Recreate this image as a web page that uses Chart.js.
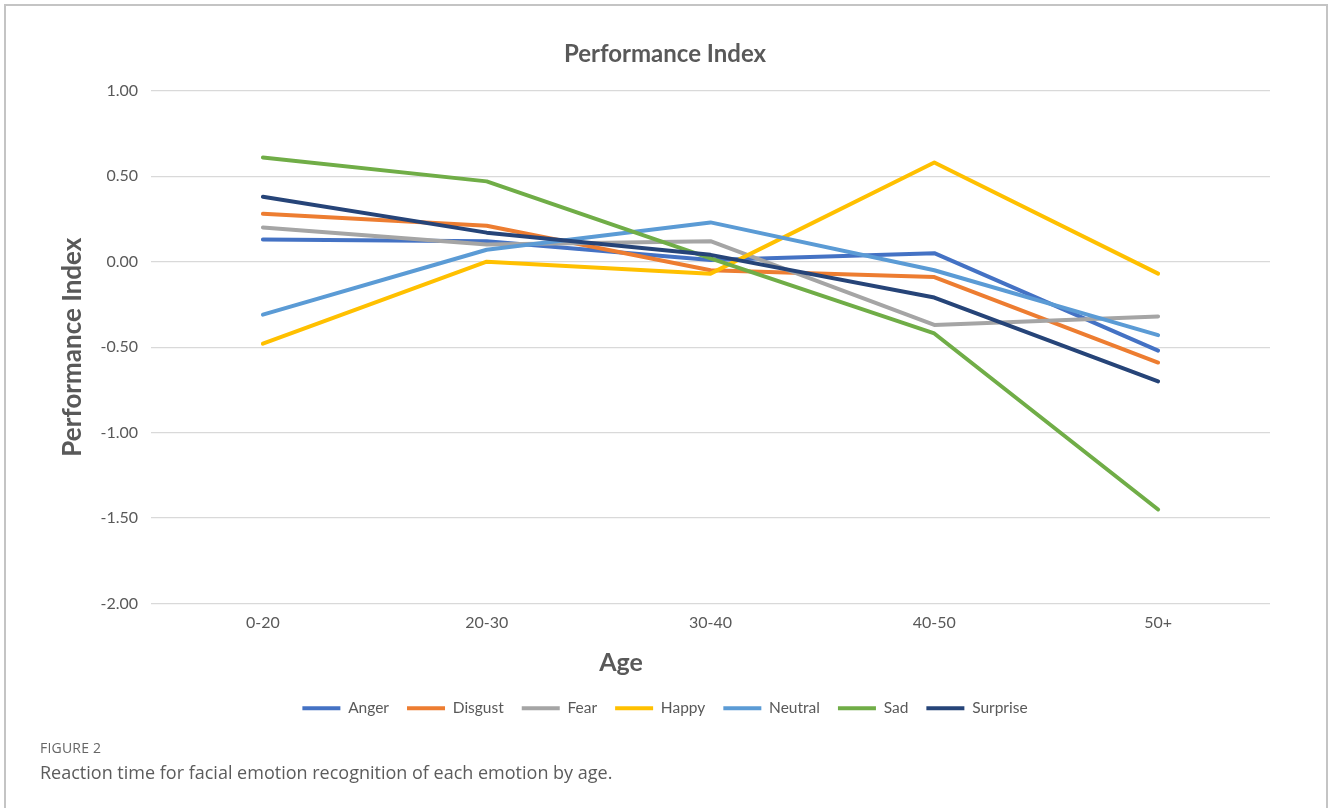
<!DOCTYPE html>
<html>
<head>
<meta charset="utf-8">
<title>Performance Index</title>
<script src="https://cdn.jsdelivr.net/npm/chart.js@4"></script>
<style>
  html, body { margin: 0; padding: 0; background: #ffffff; }
  body { width: 1330px; height: 808px; position: relative; overflow: hidden; }
  #frame {
    position: absolute; left: 4px; top: 4px; width: 1324px; height: 840px;
    border: 2px solid #c4c4c4; box-sizing: border-box; pointer-events: none;
  }
  #wrap { position: absolute; left: 0; top: 0; width: 1330px; height: 726px; }
  #fig-label {
    position: absolute; left: 40px; top: 738px;
    font-family: "Open Sans", sans-serif; font-size: 14px; color: #666666;
    letter-spacing: 0.2px;
  }
  #fig-caption {
    position: absolute; left: 40px; top: 760px;
    font-family: "Open Sans", sans-serif; font-size: 18px; color: #5c5c5c;
  }
</style>
</head>
<body>
<div id="wrap"><canvas id="chart" width="1330" height="726"></canvas></div>
<div id="frame"></div>
<div id="fig-label">FIGURE 2</div>
<div id="fig-caption">Reaction time for facial emotion recognition of each emotion by age.</div>
<script>
// Age groups on the x axis
const ageGroups = ['0-20', '20-30', '30-40', '40-50', '50+'];

// Performance index per emotion, one value per age group
const anger    = [0.13, 0.12, 0.01, 0.05, -0.52];
const disgust  = [0.28, 0.21, -0.05, -0.09, -0.59];
const fear     = [0.20, 0.10, 0.12, -0.37, -0.32];
const happy    = [-0.48, 0.00, -0.07, 0.58, -0.07];
const neutral  = [-0.31, 0.07, 0.23, -0.05, -0.43];
const sad      = [0.61, 0.47, 0.02, -0.42, -1.45];
const surprise = [0.38, 0.17, 0.04, -0.21, -0.70];

// Y axis range and tick step
const yMin = -2;
const yMax = 1;
const yStep = 0.5;

const seriesNames  = ['Anger', 'Disgust', 'Fear', 'Happy', 'Neutral', 'Sad', 'Surprise'];
const seriesValues = [anger, disgust, fear, happy, neutral, sad, surprise];
const seriesColors = ['#4472C4', '#ED7D31', '#A5A5A5', '#FFC000', '#5B9BD5', '#70AD47', '#264478'];

const textColor = '#595959';
const fontFamily = 'Lato, "Open Sans", sans-serif';

const datasets = seriesNames.map((name, i) => ({
  label: name,
  data: seriesValues[i],
  borderColor: seriesColors[i],
  backgroundColor: seriesColors[i],
  borderWidth: 4,
  pointRadius: 0,
  pointHoverRadius: 0,
  tension: 0,
  fill: false,
  borderCapStyle: 'round',
  borderJoinStyle: 'round',
  // later series are painted over earlier ones
  order: seriesNames.length - i
}));

// Draws the x axis title a little left of the plot centre
const xTitlePlugin = {
  id: 'xTitle',
  afterDraw(chart) {
    const xs = chart.scales.x;
    const ctx = chart.ctx;
    ctx.save();
    ctx.font = 'bold 25px ' + fontFamily;
    ctx.fillStyle = textColor;
    ctx.textAlign = 'center';
    ctx.textBaseline = 'middle';
    ctx.fillText('Age', xs.left + xs.width * 0.42, xs.top + 59);
    ctx.restore();
  }
};

new Chart(document.getElementById('chart'), {
  type: 'line',
  data: { labels: ageGroups, datasets },
  plugins: [xTitlePlugin],
  options: {
    responsive: false,
    animation: false,
    events: [],
    layout: { padding: { left: 60, right: 60, top: 0, bottom: 0 } },
    plugins: {
      title: {
        display: true,
        text: 'Performance Index',
        color: textColor,
        font: { family: fontFamily, size: 24, weight: 'bold' },
        padding: { top: 40, bottom: 22 }
      },
      legend: {
        position: 'bottom',
        labels: {
          usePointStyle: true,
          pointStyle: 'line',
          pointStyleWidth: 38,
          color: textColor,
          font: { family: fontFamily, size: 15.5 },
          padding: 18,
          sort: (a, b) => a.datasetIndex - b.datasetIndex
        }
      },
      tooltip: { enabled: false }
    },
    scales: {
      x: {
        type: 'category',
        offset: true,
        grid: { display: false, drawTicks: false },
        border: { display: false },
        ticks: {
          color: textColor,
          font: { family: fontFamily, size: 16 },
          padding: 10,
          maxRotation: 0
        },
        afterFit(scale) { scale.height = 79; }
      },
      y: {
        min: yMin,
        max: yMax,
        grid: { color: '#d9d9d9', lineWidth: 1.3, drawTicks: false },
        border: { display: false },
        ticks: {
          stepSize: yStep,
          color: textColor,
          font: { family: fontFamily, size: 16 },
          padding: 13,
          callback: (v) => Number(v).toFixed(2)
        },
        title: {
          display: true,
          text: 'Performance Index',
          color: textColor,
          font: { family: fontFamily, size: 26, weight: 'bold', lineHeight: 1.0 },
          padding: { top: 0, bottom: 0 }
        },
        afterFit(scale) { scale.width = 91; }
      }
    }
  }
});
</script>
</body>
</html>
